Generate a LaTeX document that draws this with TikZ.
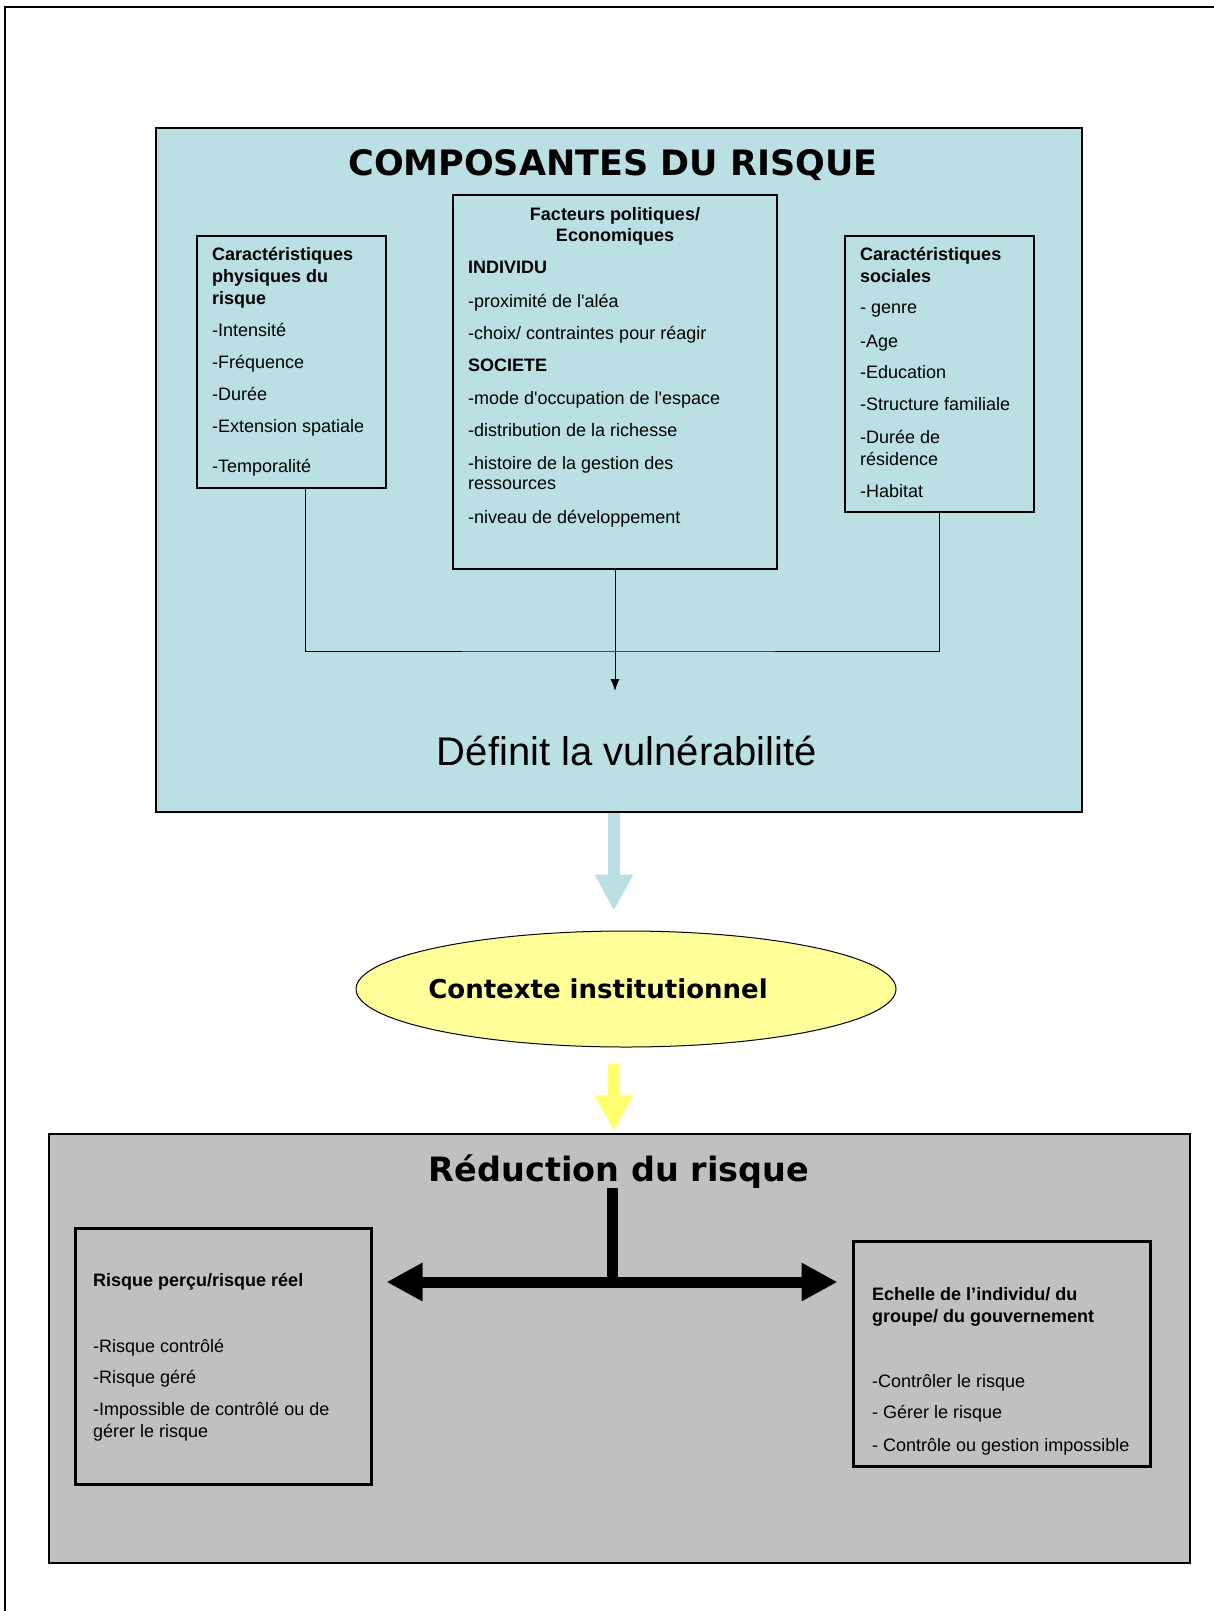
\documentclass[tikz,border=0pt]{standalone}
\usepackage{fontspec}
\setmainfont{Liberation Sans}
\newfontfamily\heavyfont{DejaVu Sans}
\usetikzlibrary{arrows.meta,shapes.geometric,positioning}

\definecolor{turq}{RGB}{186,224,228}
\definecolor{paleyellow}{RGB}{255,255,153}
\definecolor{arrowyellow}{RGB}{255,255,110}
\definecolor{silver}{RGB}{192,192,192}

% lignes de texte, ligne de base = premiere ligne
\newcommand\lignes[1]{\begin{tabular}[t]{@{}l@{}}#1\end{tabular}}
\newcommand\lignesc[1]{\begin{tabular}[t]{@{}c@{}}#1\end{tabular}}

\tikzset{
  panel/.style={draw, line width=1.5pt, inner sep=0pt},
  cadre/.style={draw, line width=1.2pt, inner sep=0pt},
  txt/.style={anchor=base west, inner sep=0pt, font=\fontsize{18pt}{22pt}\selectfont},
  fat/.style={line width=12pt, -{Triangle[width=36pt,length=36pt]}},
}

\begin{document}
\begin{tikzpicture}[x=1pt,y=-1pt,>=latex]
\useasboundingbox (0,0) rectangle (1214,1611);
\draw[line width=2pt] (1214,7) -- (5,7) -- (5,1611);

% composantes
\node(compo)[panel, fill=turq, minimum width=926pt, minimum height=684pt] at (619,470) {};
\node(compoT)[anchor=base, inner sep=0pt, font=\heavyfont\bfseries\fontsize{35pt}{35pt}\selectfont] at (613,175) {COMPOSANTES DU RISQUE};

\node(phys)[cadre, minimum width=189pt, minimum height=252pt] at (291.5,362) {};
\node(pol)[cadre, minimum width=324pt, minimum height=374pt] at (615,382) {};
\node(soc)[cadre, minimum width=189pt, minimum height=276pt] at (939.5,374) {};

\node(physT)[txt] at (212,260) {\lignes{\textbf{Caractéristiques}\\\textbf{physiques du}\\\textbf{risque}\\[10pt]-Intensité\\[10pt]-Fréquence\\[10pt]-Durée\\[10pt]-Extension spatiale\\[18pt]-Temporalité}};
\node(polH)[txt, anchor=base, font=\bfseries\fontsize{18pt}{21pt}\selectfont] at (615,220) {\lignesc{Facteurs politiques/\\Economiques}};
\node(polT)[txt] at (468,273) {\lignes{\textbf{INDIVIDU}\\[12pt]-proximité de l\textquotesingle aléa\\[10pt]-choix/ contraintes pour réagir\\[10pt]\textbf{SOCIETE}\\[11pt]-mode d\textquotesingle occupation de l\textquotesingle espace\\[10pt]-distribution de la richesse\\[11pt]-histoire de la gestion des\\[-2pt]ressources\\[12pt]-niveau de développement}};
\node(socT)[txt] at (860,260) {\lignes{\textbf{Caractéristiques}\\\textbf{sociales}\\[9pt]- genre\\[12pt]-Age\\[9pt]-Education\\[10pt]-Structure familiale\\[11pt]-Durée de\\résidence\\[10pt]-Habitat}};

\coordinate(join) at (615,651);
\coordinate(tip) at (615,691);
\draw[line width=1pt] ([xshift=14pt]phys.south) |- (join) -| (soc.south);
\draw[line width=1pt, -{Latex[length=12pt,width=9pt]}] (pol.south) -- (tip);

\node(vuln)[anchor=base, inner sep=0pt, font=\fontsize{40pt}{40pt}\selectfont] at (627,765) {Définit la vulnérabilité};

% contexte
\node(ctx)[ellipse, draw, line width=1pt, fill=paleyellow, minimum width=540pt, minimum height=116pt, inner sep=0pt] at (626,989) {};
\node(ctxT)[anchor=base, inner sep=0pt, font=\heavyfont\bfseries\fontsize{26pt}{26pt}\selectfont] at (598,998) {Contexte institutionnel};

% reduction
\node(reduc)[panel, fill=silver, minimum width=1141pt, minimum height=429pt] at (619.5,1348.5) {};
\node(reducT)[anchor=base, inner sep=0pt, font=\heavyfont\bfseries\fontsize{33.5pt}{34pt}\selectfont] at (619,1181) {Réduction du risque};

\coordinate(axe) at (614,0);
\draw[fat, turq, shorten >=20pt] (compo.south -| axe) -- (ctx.north -| axe);
\draw[fat, arrowyellow, shorten <=16pt, shorten >=2pt] (ctx.south -| axe) -- (reduc.north -| axe);

\node(percu)[draw, line width=3pt, inner sep=0pt, minimum width=296pt, minimum height=256pt] at (223,1356) {};
\node(echelle)[draw, line width=3pt, inner sep=0pt, minimum width=297pt, minimum height=225pt] at (1001.5,1353.5) {};

\node(percuT)[txt] at (93,1286) {\lignes{\textbf{Risque perçu/risque réel}\\[44pt]-Risque contrôlé\\[9pt]-Risque géré\\[10pt]-Impossible de contrôlé ou de\\gérer le risque}};
\node(echelleT)[txt] at (872,1300) {\lignes{\textbf{Echelle de l’individu/ du}\\\textbf{groupe/ du gouvernement}\\[43pt]-Contrôler le risque\\[9pt]- Gérer le risque\\[11pt]- Contrôle ou gestion impossible}};

\coordinate(fork) at (612,1282);
\draw[line width=11pt] (reducT.south -| fork) -- (fork);
\draw[line width=11pt, {Triangle[width=36pt,length=36pt]}-{Triangle[width=36pt,length=36pt]}, shorten <=14pt, shorten >=14pt] (percu.east |- fork) -- (echelle.west |- fork);
\end{tikzpicture}
\end{document}
